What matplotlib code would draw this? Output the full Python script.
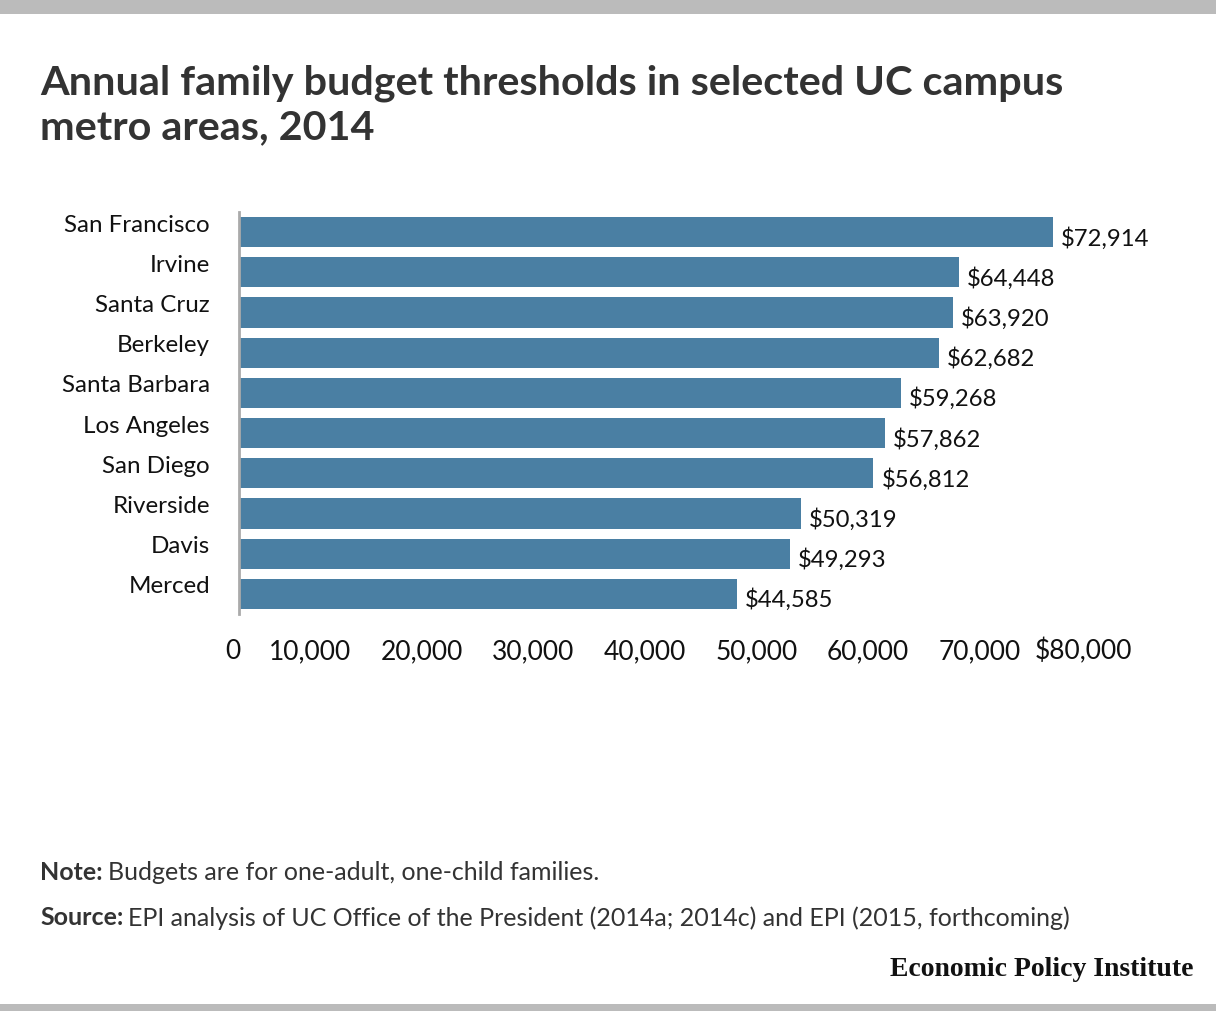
import matplotlib
matplotlib.use("Agg")
import matplotlib.pyplot as plt
from matplotlib.patches import Rectangle
from matplotlib.transforms import offset_copy, blended_transform_factory

categories = ["San Francisco", "Irvine", "Santa Cruz", "Berkeley", "Santa Barbara",
              "Los Angeles", "San Diego", "Riverside", "Davis", "Merced"]
values = [72914, 64448, 63920, 62682, 59268, 57862, 56812, 50319, 49293, 44585]
tick_values = [0, 10000, 20000, 30000, 40000, 50000, 60000, 70000, 80000]
tick_labels = ["0", "10,000", "20,000", "30,000", "40,000", "50,000", "60,000", "70,000", "$80,000"]

W, H = 1216, 1012
fig = plt.figure(figsize=(W / 100, H / 100), dpi=100)
plt.rcParams['font.family'] = ['Lato', 'DejaVu Sans']

# gray bands top and bottom
fig.add_artist(Rectangle((0, 1 - 15 / H), 1, 15 / H, transform=fig.transFigure, color="#bbbbbb", lw=0))
fig.add_artist(Rectangle((0, 0), 1, 7 / H, transform=fig.transFigure, color="#bbbbbb", lw=0))

left, right = 240, 1132
top, bottom = 213, 615
ax = fig.add_axes([left / W, 1 - bottom / H, (right - left) / W, (bottom - top) / H])

y = list(range(len(categories)))
ax.barh(y, values, height=0.75, color="#4a7fa3", zorder=2)
ax.set_ylim(len(categories) - 0.5, -0.5)
ax.set_xlim(0, 80000)

for s in ["top", "right", "bottom"]:
    ax.spines[s].set_visible(False)
ax.spines["left"].set_color("#aaaaaa")
ax.spines["left"].set_linewidth(2)
ax.spines["left"].set_position(("outward", 1))

ax.set_yticks([])
ax.set_xticks([])

# x tick labels, right-aligned at tick positions, shared baseline
tick_tr = blended_transform_factory(ax.transData, fig.transFigure)
for tv, tl in zip(tick_values, tick_labels):
    ax.text(tv, 1 - 659 / H, tl, transform=tick_tr, ha="right", va="baseline",
            fontsize=19, color="#111111", clip_on=False)

lab_tr = offset_copy(ax.transData, fig=fig, x=-30, y=8, units="dots")
for yi, c in zip(y, categories):
    ax.text(0, yi, c, transform=lab_tr, ha="right", va="center", fontsize=17.4, color="#111111")

val_tr = offset_copy(ax.transData, fig=fig, x=8, y=-5, units="dots")
for yi, v in zip(y, values):
    ax.text(v, yi, f"${v:,}", transform=val_tr, ha="left", va="center", fontsize=17.2, color="#111111")

fig.text(40 / W, 1 - 83 / H, "Annual family budget thresholds in selected UC campus",
         fontsize=29.8, fontweight="bold", color="#333333", ha="left", va="center")
fig.text(40 / W, 1 - 128 / H, "metro areas, 2014",
         fontsize=29.8, fontweight="bold", color="#333333", ha="left", va="center")

t1 = fig.text(40 / W, 1 - 873 / H, "Note:", fontsize=18, fontweight="bold", color="#333333", va="center")
t2 = fig.text(40 / W, 1 - 918 / H, "Source:", fontsize=18, fontweight="bold", color="#333333", va="center")
fig.canvas.draw()
r = fig.canvas.get_renderer()
bb1 = t1.get_window_extent(r)
bb2 = t2.get_window_extent(r)
fig.text((bb1.x1 + 5) / W, 1 - 873 / H, "Budgets are for one-adult, one-child families.",
         fontsize=18, color="#333333", va="center")
fig.text((bb2.x1 + 5) / W, 1 - 918 / H,
         "EPI analysis of UC Office of the President (2014a; 2014c) and EPI (2015, forthcoming)",
         fontsize=18, color="#333333", va="center")

fig.text(1193 / W, 1 - 970 / H, "Economic Policy Institute", fontsize=20, fontweight="bold",
         family="Liberation Serif", color="#111111", ha="right", va="center")

fig.savefig("out.png", dpi=100)
